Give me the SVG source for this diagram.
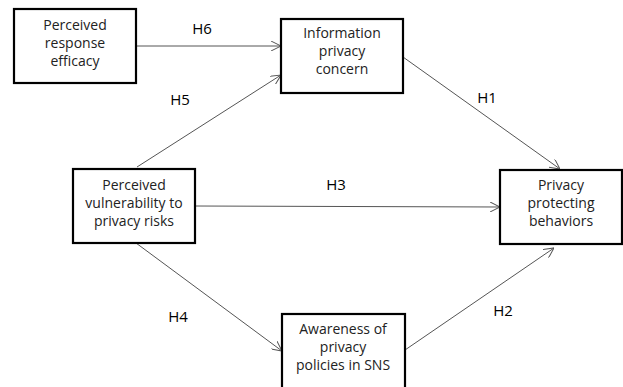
<svg xmlns="http://www.w3.org/2000/svg" width="623" height="387" viewBox="0 0 623 387">
<style>
.box{fill:#fff;stroke:#000;stroke-width:2.2}
.t{font-family:"Open Sans","Liberation Sans",sans-serif;font-size:14px;fill:#222;text-anchor:middle}
.h{font-family:"Open Sans","Liberation Sans",sans-serif;font-size:15px;fill:#000;text-anchor:middle}
.e{stroke:#555;stroke-width:1;fill:none;marker-end:url(#a)}
</style>
<defs>
<marker id="a" viewBox="0 0 10 10" refX="10" refY="5" markerWidth="10" markerHeight="10" markerUnits="userSpaceOnUse" orient="auto">
<path d="M0,0 L10,5 L0,10" fill="none" stroke="#555" stroke-width="1"/>
</marker>
</defs>
<rect width="623" height="387" fill="#fff"/>
<g id="edges">
<line class="e" x1="137" y1="46" x2="281" y2="46"/>
<line class="e" x1="137" y1="167" x2="281" y2="75"/>
<line class="e" x1="403" y1="57" x2="560" y2="169"/>
<line class="e" x1="195" y1="206" x2="500" y2="207"/>
<line class="e" x1="136" y1="243" x2="282" y2="351"/>
<line class="e" x1="405" y1="350" x2="554" y2="248"/>
<text class="h" x="202" y="34">H6</text>
<text class="h" x="180" y="105">H5</text>
<text class="h" x="487" y="103">H1</text>
<text class="h" x="336" y="190">H3</text>
<text class="h" x="178" y="322">H4</text>
<text class="h" x="503" y="316">H2</text>
</g>
<g id="n1"><rect class="box" x="14" y="9" width="122" height="74"/>
<text class="t" x="75" y="30">Perceived</text><text class="t" x="75" y="48">response</text><text class="t" x="75" y="66">efficacy</text></g>
<g id="n2"><rect class="box" x="281" y="19" width="122" height="74"/>
<text class="t" x="342" y="38">Information</text><text class="t" x="342" y="56">privacy</text><text class="t" x="342" y="74">concern</text></g>
<g id="n3"><rect class="box" x="73" y="169" width="122" height="74"/>
<text class="t" x="134" y="190">Perceived</text><text class="t" x="134" y="208">vulnerability to</text><text class="t" x="134" y="226">privacy risks</text></g>
<g id="n4"><rect class="box" x="500" y="170" width="122" height="74"/>
<text class="t" x="561" y="190">Privacy</text><text class="t" x="561" y="208">protecting</text><text class="t" x="561" y="226">behaviors</text></g>
<g id="n5"><rect class="box" x="282" y="314" width="123" height="76"/>
<text class="t" x="343" y="334">Awareness  of</text><text class="t" x="343" y="352">privacy</text><text class="t" x="343" y="370">policies in SNS</text></g>
</svg>
